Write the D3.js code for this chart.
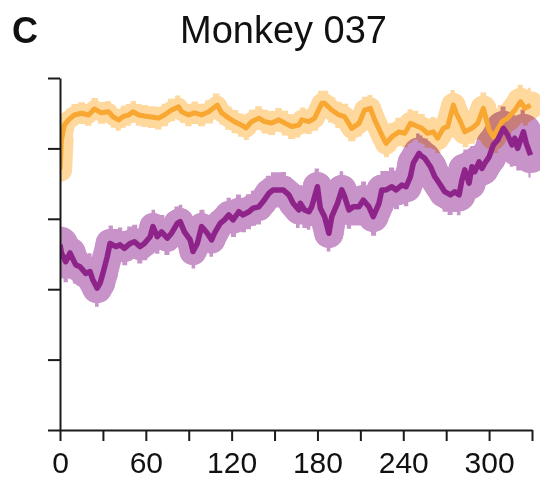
<!DOCTYPE html>
<html lang="en">
<head>
  <meta charset="UTF-8">
  <title>Monkey 037</title>
  <style>
    body { margin: 0; background: #fff; font-family: "Liberation Sans", Arial, sans-serif; }
    #chart { width: 540px; height: 483px; }
    .band { mix-blend-mode: multiply; }
  </style>
  <script src="https://d3js.org/d3.v7.min.js"></script>
</head>
<body>
  <div id="chart"></div>
  <script>
  // orange series (x, mean, sem)
  const orangeX    = [0,1,3,6,10,15,20,24,29,34,37,41,44,48,51,55,59,64,69,73,78,83,85,90,94,99,104,110,113,118,122,127,130,134,139,143,148,153,157,162,167,169,174,178,183,185,190,195,199,204,209,213,217,220,225,228,232,237,241,245,248,253,257,261,264,268,271,275,277,280,283,288,292,296,300,303,309,313,318,322,325,329];
  const orangeMean = [73.9,82.4,86.6,88.1,89.5,90.0,89.5,91.2,90.1,90.4,89.0,88.1,89.0,89.5,90.4,89.5,89.2,88.9,88.6,89.5,90.9,91.8,90.4,89.5,90.1,89.5,90.4,92.3,90.1,88.6,87.6,86.6,85.8,87.6,88.6,87.6,87.2,88.1,87.2,86.2,86.6,88.1,87.6,88.6,92.8,92.8,90.9,89.5,89.0,85.7,87.1,90.9,91.4,88.1,83.8,81.4,83.3,84.7,84.3,87.1,86.6,85.7,84.3,84.7,82.9,85.7,86.2,92.3,90.0,87.6,84.7,85.7,87.1,91.4,85.2,83.3,87.6,88.6,90.9,93.3,91.4,92.3];
  const orangeSem  = [4.6,4.0,3.4,3.2,3.1,3.1,3.1,3.1,3.1,3.1,3.1,3.1,3.1,3.1,3.1,3.1,3.1,3.1,3.2,3.2,3.2,3.2,3.2,3.2,3.2,3.2,3.3,3.3,3.3,3.3,3.3,3.3,3.4,3.4,3.4,3.4,3.4,3.4,3.5,3.5,3.5,3.5,3.5,3.6,3.6,3.6,3.6,3.7,3.7,3.7,3.7,3.8,3.8,3.8,3.9,3.9,3.9,4.0,4.0,4.0,4.1,4.1,4.1,4.2,4.2,4.2,4.3,4.3,4.3,4.4,4.4,4.4,4.5,4.5,4.6,4.6,4.7,4.7,4.8,4.8,4.9,4.9];

  // purple series (x, mean, sem)
  const purpleX    = [0,1,4,7,11,14,18,21,23,26,28,30,33,35,39,42,45,49,52,56,59,63,65,68,71,75,78,82,84,87,91,93,96,99,103,106,108,112,115,118,121,125,128,132,135,139,142,146,149,153,156,160,163,167,168,171,174,176,180,182,185,188,190,194,197,199,202,205,209,212,216,219,223,225,228,232,235,239,242,245,247,251,252,255,259,262,266,269,273,276,279,281,283,286,288,290,293,295,297,300,303,306,310,313,316,318,320,324,326,329];
  const purpleMean = [52.6,50.3,47.8,50.3,46.9,46.4,44.5,45.0,42.6,40.3,41.7,44.5,49.2,53.0,52.1,52.6,51.6,53.0,53.5,52.1,53.0,54.9,57.8,54.9,56.3,54.5,55.9,58.7,59.2,56.3,54.0,50.7,53.0,57.8,55.9,54.0,55.9,58.7,59.7,61.1,59.7,62.0,61.1,62.0,63.0,63.4,64.9,67.2,68.2,68.2,68.2,66.8,64.4,62.5,64.4,62.5,62.0,63.4,69.1,63.0,60.6,55.9,60.6,64.4,68.2,66.3,62.5,63.4,63.4,65.3,63.4,60.6,64.4,68.2,68.2,69.1,68.2,69.6,69.1,72.0,75.8,78.6,78.1,77.2,74.8,72.0,69.6,67.7,66.8,67.7,66.8,71.0,73.9,70.1,74.8,73.4,76.2,74.3,75.8,77.6,81.0,82.4,85.7,83.8,81.0,82.9,80.0,84.7,81.4,78.1];
  const purpleSem  = [6.8,6.2,5.8,5.5,5.3,5.2,5.2,5.2,5.3,5.3,5.3,5.3,5.2,5.1,5.0,4.9,4.8,4.8,4.8,4.8,4.8,4.8,4.8,4.8,4.8,4.8,4.8,4.8,4.8,4.8,4.8,4.8,4.8,4.8,4.8,4.8,4.9,4.9,4.9,4.9,4.9,4.9,4.9,5.0,5.0,5.0,5.0,5.0,5.0,5.0,5.1,5.1,5.1,5.1,5.1,5.1,5.1,5.2,5.2,5.2,5.2,5.2,5.2,5.2,5.3,5.3,5.3,5.3,5.3,5.3,5.4,5.4,5.4,5.4,5.4,5.5,5.5,5.5,5.5,5.5,5.6,5.6,5.6,5.6,5.6,5.7,5.7,5.7,5.7,5.8,5.8,5.8,5.8,5.9,5.9,5.9,6.0,6.0,6.0,6.1,6.1,6.1,6.2,6.2,6.2,6.3,6.3,6.3,6.4,6.4];

  const xTicks = d3.range(0, 331, 30);
  const yTicks = [0, 20, 40, 60, 80, 100];

  const W = 540, H = 483;
  const svg = d3.select('#chart').append('svg').attr('width', W).attr('height', H);

  const x = d3.scaleLinear().domain([0, 330]).range([60, 532]);
  const y = d3.scaleLinear().domain([0, 100]).range([430, 78]);

  function series(xs, mean, sem) {
    return xs.map((v, i) => ({ x: v, m: mean[i], s: sem[i] }));
  }
  const orange = series(orangeX, orangeMean, orangeSem);
  const purple = series(purpleX, purpleMean, purpleSem);

  // sem band: stepped area (mean +/- sem) merged with thick segments, flattened in one group
  const bandArea = d3.area().curve(d3.curveStep)
    .x(d => x(d.x)).y0(d => y(d.m - d.s)).y1(d => y(d.m + d.s));
  function drawBand(g, data, color) {
    const band = g.append('g').attr('class', 'band');
    band.append('path').datum(data).attr('d', bandArea).attr('fill', color);
    d3.pairs(data).forEach(([a, b]) => {
      const w = (y(0) - y((a.s + b.s) / 2)) * 1.6;
      band.append('line')
        .attr('x1', x(a.x)).attr('y1', y(a.m))
        .attr('x2', x(b.x)).attr('y2', y(b.m))
        .attr('stroke', color).attr('stroke-width', w)
        .attr('stroke-linecap', 'round');
    });
  }
  const line = d3.line().x(d => x(d.x)).y(d => y(d.m));

  const plot = svg.append('g').style('isolation', 'isolate');
  plot.append('clipPath').attr('id', 'clip')
    .append('rect').attr('x', 60).attr('y', 0).attr('width', 480).attr('height', 430);
  const inner = plot.append('g').attr('clip-path', 'url(#clip)');
  drawBand(inner, purple, '#c893c8');
  drawBand(inner, orange, '#fed89c');
  inner.append('path').datum(orange).attr('d', line)
    .attr('fill', 'none').attr('stroke', '#f8a733').attr('stroke-width', 5)
    .attr('stroke-linejoin', 'round');
  inner.append('path').datum(purple).attr('d', line)
    .attr('fill', 'none').attr('stroke', '#8e2489').attr('stroke-width', 5.5)
    .attr('stroke-linejoin', 'round');

  // axes
  const yAxis = svg.append('g').attr('transform', 'translate(60,0)')
    .call(d3.axisLeft(y).tickValues(yTicks).tickSize(12).tickSizeOuter(0).tickFormat(''));
  const xAxis = svg.append('g').attr('transform', 'translate(0,430)')
    .call(d3.axisBottom(x).tickValues(xTicks).tickSize(11).tickSizeOuter(0)
      .tickFormat(d => d % 60 === 0 ? d : ''));
  [xAxis, yAxis].forEach(a => {
    a.selectAll('path, line').attr('stroke', '#1a1a1a').attr('stroke-width', 2);
  });
  xAxis.selectAll('text')
    .attr('font-family', '"Liberation Sans", Arial, sans-serif')
    .attr('font-size', 30).attr('fill', '#111').attr('dy', '0.95em');

  // titles
  svg.append('text').attr('x', 283.5).attr('y', 43).attr('text-anchor', 'middle')
    .attr('font-size', 38).attr('fill', '#111').text('Monkey 037');
  svg.append('text').attr('x', 12).attr('y', 43)
    .attr('font-size', 36).attr('font-weight', 'bold').attr('fill', '#111').text('C');
  </script>
</body>
</html>
